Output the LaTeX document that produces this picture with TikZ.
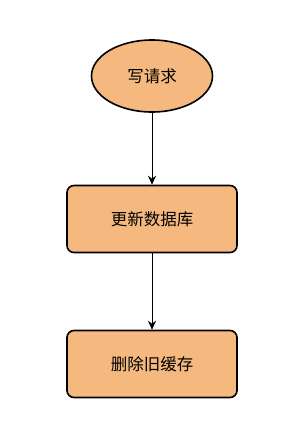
\documentclass[tikz,border=0pt]{standalone}
\usepackage{fontspec}
\newfontfamily\cjk{Noto Sans CJK SC}
\usepackage{tikz}
\usetikzlibrary{shapes.geometric,arrows.meta}
\definecolor{boxfill}{RGB}{245,185,127}
\tikzset{
  startnode/.style={ellipse,draw=black,line width=1.6pt,fill=boxfill,minimum width=121pt,minimum height=72pt,inner sep=0pt,font=\cjk\fontsize{16.5}{16.5}\selectfont},
  stepbox/.style={rectangle,rounded corners=7pt,draw=black,line width=1.6pt,fill=boxfill,minimum width=170pt,minimum height=67pt,inner sep=0pt,font=\cjk\fontsize{16.5}{16.5}\selectfont},
  flow/.style={-{Stealth[length=9pt,width=8pt,inset=3pt]},line width=0.8pt}
}

\begin{document}
\begin{tikzpicture}[x=1pt,y=-1pt]
    \useasboundingbox (0,0) rectangle (300,434);
    \node[startnode] (req) at (152,76){写请求};
    \node[stepbox] (db) at (152,219){更新数据库};
    \node[stepbox] (cache) at (152,364){删除旧缓存};
    \draw[flow] (req)--(db);
    \draw[flow] (db)--(cache);
\end{tikzpicture}
\end{document}
